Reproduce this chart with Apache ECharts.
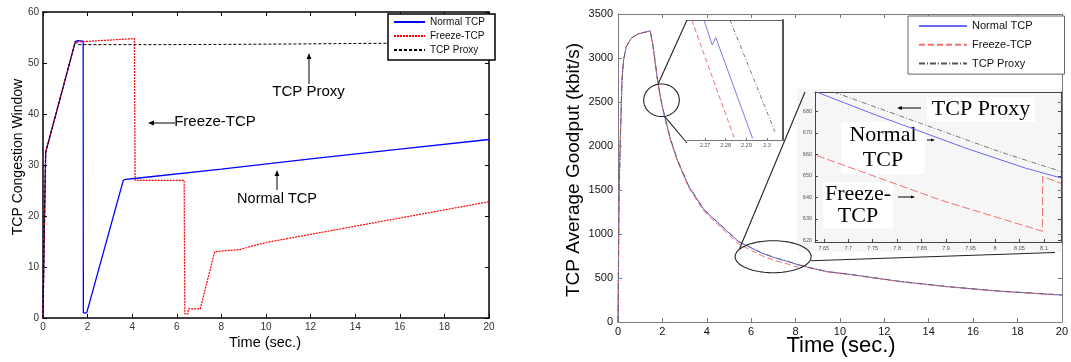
<!DOCTYPE html>
<html><head><meta charset="utf-8">
<script src="https://cdn.jsdelivr.net/npm/echarts@6/dist/echarts.min.js"></script>
<style>html,body{margin:0;padding:0;background:#fff}#c{width:1071px;height:362px}</style>
</head><body><div id="c"></div>
<script>
// ================= DATA =================
// Left: TCP congestion window vs time
const cwndNormalT = [0, 0.05, 0.12, 1.45, 1.55, 1.80, 1.81, 1.96, 3.60, 3.70, 4.20, 8, 12, 16, 20];
const cwndNormalV = [0, 15, 32.5, 54.2, 54.4, 54.3, 1, 1, 27, 27.2, 27.4, 29.2, 31.2, 33.1, 35.0];
const cwndFreezeT = [0, 0.05, 0.12, 1.45, 1.55, 1.80, 3.0, 4.10, 4.13, 6.33, 6.36, 6.50, 6.52, 7.05, 7.70, 8.80, 9.30, 10, 12, 14, 16, 18, 20];
const cwndFreezeV = [0, 15, 32.5, 54.2, 54.1, 54.2, 54.5, 54.8, 27, 27, 0.8, 0.8, 1.8, 1.8, 13.0, 13.4, 14.0, 14.8, 16.4, 18.0, 19.6, 21.2, 22.8];
const cwndProxyT = [0, 0.05, 0.12, 1.45, 1.55, 5.70, 5.75, 10.30, 10.35, 14.80, 14.85, 20];
const cwndProxyV = [0, 15, 32.5, 54.2, 53.6, 53.6, 53.7, 53.7, 53.85, 53.85, 54.0, 54.0];

// Right: TCP average goodput vs time
const gpT      = [0, 0.03, 0.05, 0.10, 0.18, 0.25, 0.37, 0.59, 0.89, 1.19, 1.45, 1.56, 1.78, 1.93, 2.10, 2.37, 2.67, 3.19, 3.88, 4.69, 5.43, 6.46, 7.00, 7.65, 8.09, 8.10, 8.70, 9.44, 10.47, 12.70, 14.90, 17.10, 20];
const gpNormal = [0, 900, 1500, 2030, 2750, 2977, 3128, 3223, 3272, 3292, 3307, 3167, 2750, 2523, 2333, 2068, 1841, 1538, 1273, 1083, 913, 784, 735, 687, 652, 651, 613, 571, 540, 460, 400, 352, 306];
const gpFreeze = [0, 900, 1500, 2030, 2750, 2977, 3128, 3223, 3272, 3292, 3307, 3167, 2750, 2520, 2326, 2060, 1830, 1524, 1255, 1061, 888, 756, 705, 659, 624, 650, 611, 569, 538, 458, 398, 350, 304];
const gpProxy  = [0, 900, 1500, 2030, 2750, 2977, 3128, 3223, 3272, 3292, 3307, 3170, 2758, 2535, 2347, 2080, 1851, 1546, 1279, 1088, 917, 788, 738, 690, 655, 654, 615, 573, 542, 462, 402, 354, 308];

// Zoom inset A (around t = 2.28 s)
const zaNormalT = [2.2695, 2.2735, 2.2752, 2.2930];
const zaNormalV = [2172, 2167.4, 2168.8, 2150.3];
const zaFreezeT = [2.2636, 2.2845];
const zaFreezeV = [2172, 2150];
const zaProxyT  = [2.2821, 2.3038];
const zaProxyV  = [2172, 2151.5];
const zaTicksX  = [2.27, 2.28, 2.29, 2.3];

// Zoom inset B (around t = 7.9 s)
const zbNormalT = [7.635, 7.7596, 7.9386, 8.062, 8.135];
const zbNormalV = [689, 678, 663, 653.6, 649];
const zbFreezeT = [7.636, 7.89, 8.097, 8.0975, 8.135];
const zbFreezeV = [659.4, 638.6, 624.2, 649.7, 646.5];
const zbProxyT  = [7.67, 8.007, 8.135];
const zbProxyV  = [689, 661.4, 652];
const zbTicksX  = [7.65, 7.7, 7.75, 7.8, 7.85, 7.9, 7.95, 8, 8.05, 8.1];
const zbTicksY  = [620, 630, 640, 650, 660, 670, 680];

const seriesNames = ['Normal TCP', 'Freeze-TCP', 'TCP Proxy'];
// annotation anchors (data coords of right plot)
const ellipseA = [1.96, 2520];
const ellipseB = [6.99, 742];

// ================= RENDER =================
const FONT = "'Liberation Sans', Arial, Helvetica, sans-serif";
const NARROW = "'Liberation Sans Narrow', 'Arial Narrow', 'Liberation Sans', Arial, sans-serif";
const SERIF = "'Liberation Serif', 'Times New Roman', serif";
const zip = (t, v) => t.map((x, i) => [x, v[i]]);

const GL = {left: 43, top: 12, width: 446, height: 306};
const GR = {left: 618, top: 14, width: 450, height: 308};
const GA = {left: 687, top: 20, width: 96, height: 120};
const GB = {left: 815, top: 92, width: 246, height: 150};

const blk = '#000', gry = '#7a7a7a';
function ax(gridIndex, position, min, max, o) {
  o = o || {};
  const a = {
    type: 'value', gridIndex, position, min, max,
    splitLine: {show: false},
    axisLine: {show: true, onZero: false, lineStyle: {color: o.lc || blk, width: o.lw || 1}},
    axisTick: {show: o.tick !== false, inside: true, length: o.tl || 4, lineStyle: {color: o.lc || blk, width: 1}},
    axisLabel: {show: !!o.label, color: o.labc || '#222', fontSize: o.fs || 10, fontFamily: o.ff || FONT, margin: o.margin || 4,
      formatter: v => String(v)},
    z: o.z || 0
  };
  if (o.interval) a.interval = o.interval;
  if (o.custom) { a.axisLabel.customValues = o.custom; a.axisTick.customValues = o.custom; }
  return a;
}

const xAxis = [
  ax(0, 'bottom', 0, 20, {interval: 2, lw: 1.5, label: true, fs: 10, ff: NARROW, labc: '#333', margin: 4}),
  ax(0, 'top', 0, 20, {interval: 2, lw: 1.5}),
  ax(1, 'bottom', 0, 20, {interval: 2, lc: gry, label: true, fs: 11, labc: '#111', margin: 4}),
  ax(1, 'top', 0, 20, {interval: 2, lc: gry}),
  ax(2, 'bottom', 2.2613, 2.3077, {custom: zaTicksX, lc: '#777', label: true, fs: 5.5, labc: '#555', margin: 2, tl: 2}),
  ax(2, 'top', 2.2613, 2.3077, {tick: false, lc: '#666'}),
  ax(3, 'bottom', 7.632, 8.135, {custom: zbTicksX, lc: '#444', label: true, fs: 5.5, labc: '#555', margin: 3, tl: 3}),
  ax(3, 'top', 7.632, 8.135, {tick: false, lc: '#444'})
];
const yAxis = [
  ax(0, 'left', 0, 60, {interval: 10, lw: 1.5, label: true, fs: 10, ff: NARROW, labc: '#333', margin: 4}),
  ax(0, 'right', 0, 60, {interval: 10, lw: 1.5}),
  ax(1, 'left', 0, 3500, {interval: 500, lc: gry, label: true, fs: 11, labc: '#111', margin: 5}),
  ax(1, 'right', 0, 3500, {interval: 500, lc: gry}),
  Object.assign(ax(2, 'left', 2150, 2172, {}), {show: false}),
  ax(2, 'right', 2150, 2172, {tick: false, lc: '#555', lw: 2}),
  ax(3, 'left', 619.2, 689, {custom: zbTicksY, lc: '#444', label: true, fs: 5.5, labc: '#555', margin: 3, tl: 3}),
  ax(3, 'right', 619.2, 689, {custom: zbTicksY, lc: '#444', tl: 3})
];

function line(name, data, xi, color, type, width, z) {
  return {
    type: 'line', name, data, xAxisIndex: xi, yAxisIndex: xi,
    symbol: 'none', showSymbol: false, animation: false, silent: true, z: z || 2,
    lineStyle: {color, type, width}, itemStyle: {color}
  };
}
const cB = '#0000ff', cR = '#ff0000';
const gB = '#6a6af2', gR = '#f07272', gK = '#555555';
const series = [
  line('Normal TCP', zip(cwndNormalT, cwndNormalV), 0, cB, 'solid', 1.3),
  line('Freeze-TCP', zip(cwndFreezeT, cwndFreezeV), 0, cR, [2, 1], 1.2),
  line('TCP Proxy', zip(cwndProxyT, cwndProxyV), 0, blk, [3, 2], 1),
  line('G:Normal TCP', zip(gpT, gpNormal), 2, gB, 'solid', 1),
  line('G:Freeze-TCP', zip(gpT, gpFreeze), 2, gR, [6, 3], 1),
  line('G:TCP Proxy', zip(gpT, gpProxy), 2, gK, [6, 2, 1, 2], 0.8),
  line('A:Normal TCP', zip(zaNormalT, zaNormalV), 4, '#7b7bf0', 'solid', 1),
  line('A:Freeze-TCP', zip(zaFreezeT, zaFreezeV), 4, gR, [5, 3], 1),
  line('A:TCP Proxy', zip(zaProxyT, zaProxyV), 4, gK, [4, 2, 1, 2], 0.8),
  line('B:Normal TCP', zip(zbNormalT, zbNormalV), 6, '#6a6af2', 'solid', 1),
  line('B:Freeze-TCP', zip(zbFreezeT, zbFreezeV), 6, gR, [8, 3], 1),
  line('B:TCP Proxy', zip(zbProxyT, zbProxyV), 6, gK, [5, 2, 1, 2], 0.8)
];

const chart = echarts.init(document.getElementById('c'));
chart.setOption({
  animation: false,
  backgroundColor: '#fff',
  grid: [
    Object.assign({}, GL, {show: false}),
    Object.assign({}, GR, {show: false}),
    Object.assign({}, GA, {show: false}),
    Object.assign({}, GB, {show: false})
  ],
  xAxis, yAxis, series,
  legend: [
    {
      data: seriesNames, orient: 'vertical', left: 388, top: 14,
      itemWidth: 31, itemHeight: 12, itemGap: 4, padding: [3, 10, 5, 5],
      borderColor: '#000', borderWidth: 1.5, backgroundColor: '#fff',
      textStyle: {fontFamily: NARROW, fontSize: 10, color: '#111'},
      itemStyle: {opacity: 0}, selectedMode: false
    },
    {
      data: seriesNames.map(n => 'G:' + n), formatter: n => n.slice(2),
      orient: 'vertical', left: 908, top: 16,
      itemWidth: 48, itemHeight: 14, itemGap: 7.5, padding: [4.5, 32, 5, 10],
      borderColor: '#666', borderWidth: 1, backgroundColor: '#fff',
      textStyle: {fontFamily: FONT, fontSize: 11, color: '#111'},
      itemStyle: {opacity: 0}, selectedMode: false
    }
  ]
});

// ---------- annotations ----------
function arrow(x1, y1, x2, y2, hl, hw) {
  hl = hl || 6; hw = hw || 2.4;
  const dx = x2 - x1, dy = y2 - y1, L = Math.hypot(dx, dy), ux = dx / L, uy = dy / L;
  const bx = x2 - ux * hl, by = y2 - uy * hl;
  return [
    {type: 'line', z: 10, silent: true, shape: {x1, y1, x2: bx, y2: by}, style: {stroke: '#000', lineWidth: 1}},
    {type: 'polygon', z: 10, silent: true, shape: {points: [[x2, y2], [bx - uy * hw, by + ux * hw], [bx + uy * hw, by - ux * hw]]}, style: {fill: '#000'}}
  ];
}
function txt(x, y, text, size, family, extra) {
  const st = Object.assign({text, fontSize: size, fontFamily: family || FONT, fill: '#000',
    align: 'center', verticalAlign: 'middle', textAlign: 'center', textVerticalAlign: 'middle'}, (extra && extra.style) || {});
  return Object.assign({type: 'text', x, y, z: 10, silent: true, style: st}, extra && extra.rotation ? {rotation: extra.rotation} : {}, extra && extra.z != null ? {z: extra.z} : {});
}
function ellipse(cx, cy, rx, ry) {
  const pts = [];
  for (let i = 0; i < 90; i++) { const a = i / 90 * 2 * Math.PI; pts.push([cx + rx * Math.cos(a), cy + ry * Math.sin(a)]); }
  return {type: 'polygon', z: 10, silent: true, shape: {points: pts}, style: {fill: 'none', stroke: '#222', lineWidth: 1.1}};
}
function seg(x1, y1, x2, y2) {
  return {type: 'line', z: 10, silent: true, shape: {x1, y1, x2, y2}, style: {stroke: '#222', lineWidth: 1.1}};
}

const pA = chart.convertToPixel({xAxisIndex: 2, yAxisIndex: 2}, ellipseA);
const pB = chart.convertToPixel({xAxisIndex: 2, yAxisIndex: 2}, ellipseB);

const els = [
  // inset backgrounds
  {type: 'rect', z: -10, silent: true, shape: {x: GA.left - 2, y: GA.top - 1, width: GA.width + 4, height: GA.height + 10}, style: {fill: '#fff'}},
  {type: 'rect', z: -10, silent: true, shape: {x: 797, y: 89, width: 266, height: 163}, style: {fill: '#f6f6f6'}},
  // axis titles
  txt(18, 157, 'TCP Congestion Window', 14, FONT, {rotation: Math.PI / 2}),
  txt(265, 343, 'Time (sec.)', 14.5, FONT),
  txt(574, 170, 'TCP Average Goodput (kbit/s)', 19, FONT, {rotation: Math.PI / 2}),
  txt(841, 346, 'Time (sec.)', 22, FONT),
  // left annotations
  txt(308.5, 92, 'TCP Proxy', 15, FONT),
  txt(215, 122, 'Freeze-TCP', 15, FONT),
  txt(277, 198.5, 'Normal TCP', 14.5, FONT),
  ...arrow(309, 84, 309, 53),
  ...arrow(175, 123, 148, 123),
  ...arrow(277, 190, 277, 170),
  // inset B labels
  txt(981, 109.5, 'TCP Proxy', 22, SERIF, {z: 1, style: {backgroundColor: '#fff', padding: [2, 5, 1, 5]}}),
  txt(883, 148, 'Normal\nTCP', 22, SERIF, {z: 1, style: {backgroundColor: '#fff', padding: [1, 8, 1, 8], lineHeight: 25}}),
  txt(858, 205.5, 'Freeze-\nTCP', 22, SERIF, {z: 1, style: {backgroundColor: '#fff', padding: [1, 2, 1, 2], lineHeight: 22}}),
  ...arrow(921, 108, 897, 108, 5, 2),
  ...arrow(927, 140, 935, 140, 4, 1.6),
  ...arrow(898, 197, 915, 197, 4, 1.6),
  // ellipses + connectors
  ellipse(pA[0], pA[1], 17.8, 16.3),
  seg(pA[0] - 3.4, pA[1] - 16.3, GA.left, GA.top),
  seg(pA[0] + 3.3, pA[1] + 16.3, GA.left, GA.top + GA.height + 3),
  ellipse(pB[0], pB[1], 38, 16),
  seg(pB[0] - 33.6, pB[1] - 8, 805, 92),
  seg(pB[0] + 37.7, pB[1] + 4, 1055, 252.5)
];
chart.setOption({graphic: {elements: els}});
</script></body></html>
